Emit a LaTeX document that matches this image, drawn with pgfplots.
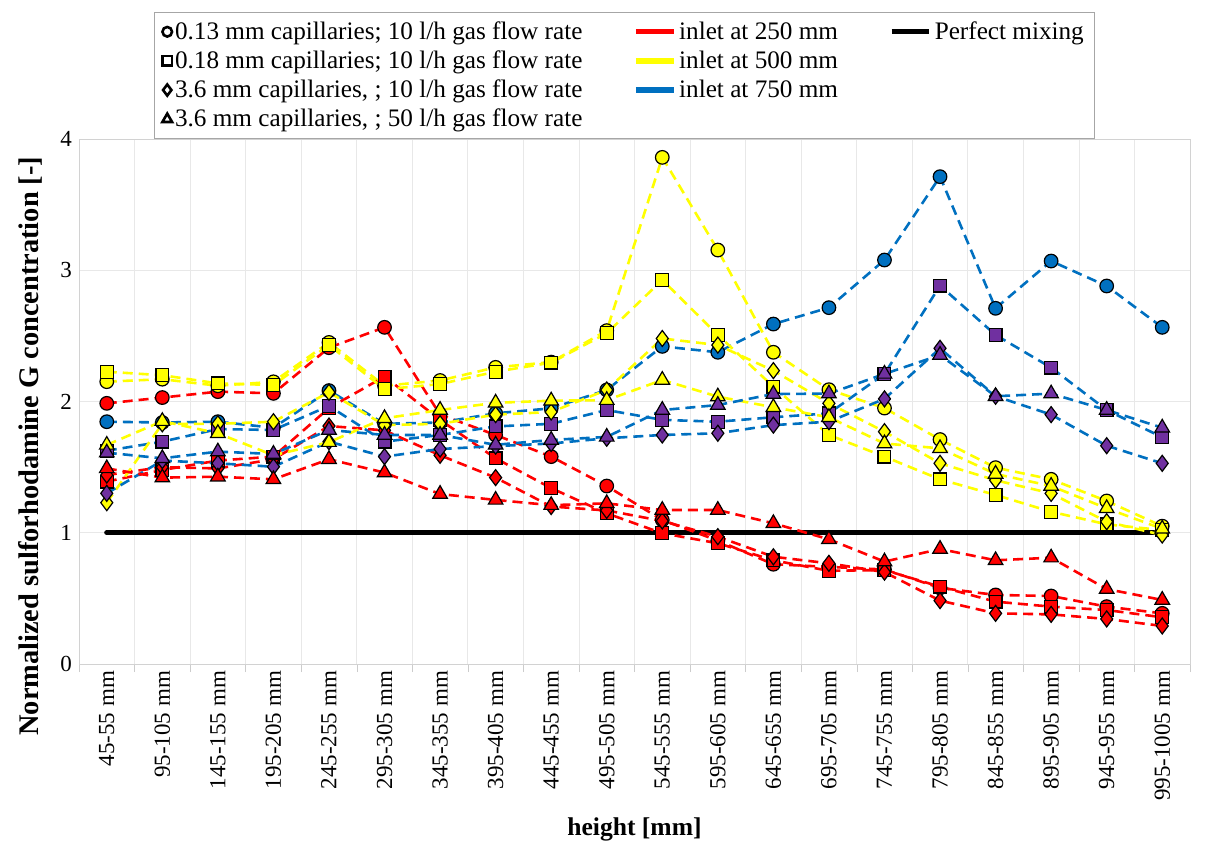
\documentclass[border=0pt]{standalone}
\usepackage{pgfplots}
\usepackage{pgfplotstable}
\pgfplotsset{compat=1.18}
\usepackage{fontspec}
\setmainfont{Liberation Serif}
\definecolor{cred}{RGB}{255,0,0}
\definecolor{cyel}{RGB}{255,255,0}
\definecolor{cblue}{RGB}{0,112,192}
\definecolor{cpur}{RGB}{112,48,160}

\pgfplotstableread{
x RC RS RD RT YC YS YD YT BC PS PD PT
0 1.986 1.39 1.44 1.49 2.151 2.227 1.229 1.669 1.846 1.625 1.30 1.61
1 2.03 1.478 1.50 1.42 2.17 2.20 1.83 1.85 1.84 1.694 1.55 1.567
2 2.075 1.55 1.49 1.427 2.12 2.138 1.83 1.758 1.846 1.79 1.529 1.618
3 2.062 1.58 1.56 1.407 2.15 2.126 1.846 1.59 1.80 1.783 1.503 1.60
4 2.41 1.95 1.813 1.56 2.45 2.43 2.07 1.69 2.083 1.966 1.694 1.783
5 2.565 2.19 1.78 1.458 2.12 2.093 1.82 1.872 1.83 1.694 1.58 1.745
6 1.90 1.86 1.59 1.295 2.16 2.133 1.83 1.935 1.84 1.745 1.638 1.745
7 1.745 1.567 1.42 1.25 2.26 2.227 1.90 1.99 1.91 1.81 1.66 1.67
8 1.58 1.34 1.20 1.21 2.30 2.296 1.92 2.006 1.948 1.83 1.68 1.707
9 1.356 1.148 1.17 1.224 2.54 2.52 2.088 2.01 2.088 1.935 1.72 1.73
10 1.097 0.996 1.09 1.173 3.86 2.926 2.48 2.164 2.42 1.86 1.745 1.935
11 0.94 0.92 0.97 1.173 3.154 2.507 2.43 2.037 2.375 1.846 1.758 1.973
12 0.76 0.79 0.817 1.072 2.375 2.113 2.235 1.956 2.59 1.88 1.82 2.057
13 0.74 0.71 0.767 0.95 2.09 1.745 1.986 1.88 2.715 1.91 1.846 2.06
14 0.72 0.716 0.70 0.78 1.95 1.58 1.77 1.68 3.078 2.21 2.02 2.21
15 0.58 0.589 0.483 0.876 1.71 1.407 1.529 1.643 3.713 2.883 2.405 2.354
16 0.526 0.475 0.386 0.79 1.496 1.288 1.40 1.448 2.71 2.507 2.04 2.04
17 0.518 0.437 0.378 0.81 1.407 1.16 1.30 1.356 3.07 2.258 1.90 2.06
18 0.437 0.411 0.343 0.571 1.242 1.064 1.084 1.186 2.88 1.935 1.663 1.935
19 0.386 0.356 0.29 0.488 1.05 1.02 0.983 1.03 2.565 1.727 1.529 1.80
}\data

\pgfplotsset{
  ser/.style n args={4}{color=#1, line width=1.3pt, dash pattern=on 5pt off 3pt,
    mark=#3, mark size=#4,
    mark options={solid, fill=#2, draw=black, line width=0.6pt}},
}

\begin{document}
\begin{tikzpicture}
\begin{axis}[
  at={(0,0)}, anchor=south west,
  scale only axis, width=555.5pt, height=262.5pt,
  xmin=-0.5, xmax=19.5, ymin=0, ymax=4,
  xtick={0,...,19},
  xticklabels={45-55 mm,95-105 mm,145-155 mm,195-205 mm,245-255 mm,295-305 mm,345-355 mm,395-405 mm,445-455 mm,495-505 mm,545-555 mm,595-605 mm,645-655 mm,695-705 mm,745-755 mm,795-805 mm,845-855 mm,895-905 mm,945-955 mm,995-1005 mm},
  minor xtick={-0.5,0.5,...,19.5},
  xminorgrids, ymajorgrids,
  ytick={0,1,2,3,4},
  grid style={gray!18}, minor grid style={gray!18},
  axis line style={gray!35},
  tick align=outside, xtick pos=bottom, ytick pos=left,
  major tick length=0pt, minor tick length=4pt,
  minor tick style={gray!40},
  x tick label style={rotate=90, anchor=east, font=\fontsize{11.5}{12}\selectfont},
  y tick label style={font=\fontsize{11.5}{12}\selectfont},
  /pgf/number format/assume math mode=true,
  xlabel={\textbf{height [mm]}},
  ylabel={\textbf{Normalized sulforhodamine G concentration [-]}},
  xlabel style={at={(axis description cs:0.5,-0.316)}, anchor=center, font=\fontsize{12.8}{13}\selectfont},
  ylabel style={at={(axis description cs:-0.0441,0.415)}, anchor=center, font=\fontsize{14.2}{15}\selectfont},
  legend columns=3,
  legend cell align=left,
  legend style={at={(axis description cs:0.0675,1.2419)}, anchor=north west,
    draw=gray!70, font=\fontsize{12.6}{13}\selectfont, row sep=0.2pt,
    inner xsep=4pt, inner ysep=2.5pt,
    /tikz/every even column/.append style={column sep=24pt},
    nodes={inner xsep=1.5pt}},
]
% perfect mixing
\addplot[black, line width=2.6pt, line cap=round, forget plot] coordinates {(0,1) (19,1)};
% circles
\addplot[ser={cred}{cred}{*}{3.4pt}, forget plot] table[x=x,y=RC]{\data};
\addplot[ser={cyel}{cyel}{*}{3.4pt}, forget plot] table[x=x,y=YC]{\data};
\addplot[ser={cblue}{cblue}{*}{3.4pt}, forget plot] table[x=x,y=BC]{\data};
% squares
\addplot[ser={cred}{cred}{square*}{3.2pt}, forget plot] table[x=x,y=RS]{\data};
\addplot[ser={cyel}{cyel}{square*}{3.2pt}, forget plot] table[x=x,y=YS]{\data};
\addplot[ser={cblue}{cpur}{square*}{3.2pt}, forget plot] table[x=x,y=PS]{\data};
% diamonds
\addplot[ser={cred}{cred}{diamond*}{4pt}, forget plot] table[x=x,y=RD]{\data};
\addplot[ser={cyel}{cyel}{diamond*}{4pt}, forget plot] table[x=x,y=YD]{\data};
\addplot[ser={cblue}{cpur}{diamond*}{4pt}, forget plot] table[x=x,y=PD]{\data};
% triangles
\addplot[ser={cred}{cred}{triangle*}{4.2pt}, forget plot] table[x=x,y=RT]{\data};
\addplot[ser={cyel}{cyel}{triangle*}{4.2pt}, forget plot] table[x=x,y=YT]{\data};
\addplot[ser={cblue}{cpur}{triangle*}{4.2pt}, forget plot] table[x=x,y=PT]{\data};

% legend
\addlegendimage{legend image code/.code={\draw[black, line width=1.3pt] plot[mark=o, mark size=2.4pt] coordinates {(0.3cm,0cm)};}}
\addlegendentry{0.13 mm capillaries; 10 l/h gas flow rate}
\addlegendimage{legend image code/.code={\draw[cred, line width=2.6pt] (0cm,0cm) -- (0.66cm,0cm);}}
\addlegendentry{inlet at 250 mm}
\addlegendimage{legend image code/.code={\draw[black, line width=2.6pt] (0cm,0cm) -- (0.66cm,0cm);}}
\addlegendentry{Perfect mixing\hspace{12pt}}
\addlegendimage{legend image code/.code={\draw[black, line width=1.3pt] plot[mark=square, mark size=2.4pt] coordinates {(0.3cm,0cm)};}}
\addlegendentry{0.18 mm capillaries; 10 l/h gas flow rate}
\addlegendimage{legend image code/.code={\draw[cyel, line width=2.6pt] (0cm,0cm) -- (0.66cm,0cm);}}
\addlegendentry{inlet at 500 mm}
\addlegendimage{empty legend}
\addlegendentry{}
\addlegendimage{legend image code/.code={\draw[black, line width=1.3pt] plot[mark=diamond, mark size=2.8pt] coordinates {(0.3cm,0cm)};}}
\addlegendentry{3.6 mm capillaries, ; 10 l/h gas flow rate}
\addlegendimage{legend image code/.code={\draw[cblue, line width=2.6pt] (0cm,0cm) -- (0.66cm,0cm);}}
\addlegendentry{inlet at 750 mm}
\addlegendimage{empty legend}
\addlegendentry{}
\addlegendimage{legend image code/.code={\draw[black, line width=1.3pt] plot[mark=triangle, mark size=2.8pt] coordinates {(0.3cm,0cm)};}}
\addlegendentry{3.6 mm capillaries, ; 50 l/h gas flow rate}
\end{axis}
\path[use as bounding box] (-39.5pt,-89.5pt) rectangle (565.5pt,332pt);
\end{tikzpicture}
\end{document}
